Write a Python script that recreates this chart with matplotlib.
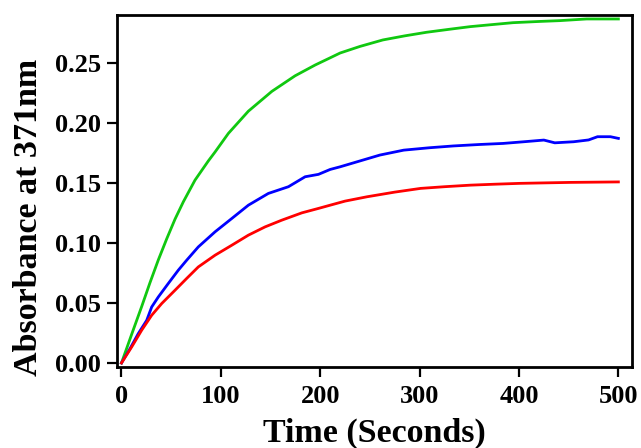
import matplotlib
matplotlib.use("Agg")
import matplotlib.pyplot as plt

# Absorbance traces at 371 nm versus time
green_t = [0, 10.3, 20.3, 28.7, 37.1, 45.5, 53.9, 62.3, 74, 87.4, 94.2, 107.6, 127.7, 151.3,
           174.7, 194.9, 210, 220, 240, 263, 285, 307, 330, 351, 373, 394, 420, 441, 468, 500]
green_a = [0.0, 0.0240, 0.0470, 0.0670, 0.0860, 0.1035, 0.1200, 0.1345, 0.1525, 0.1685, 0.1760,
           0.1915, 0.2100, 0.2265, 0.2395, 0.2485, 0.2545, 0.2585, 0.2640, 0.2694, 0.2728,
           0.2758, 0.2783, 0.2805, 0.2822, 0.2838, 0.2848, 0.2855, 0.2869, 0.2869]

blue_t = [0, 8.6, 16.9, 25.4, 30.4, 37.1, 47.1, 57.2, 65.6, 77.3, 94.2, 111, 127.7, 147.8,
          168, 184.8, 198.2, 210, 220, 240, 260, 284, 310, 334, 360, 384, 405, 425, 436,
          455, 470, 479, 492, 500]
blue_a = [0.0, 0.012, 0.0245, 0.0356, 0.0467, 0.0551, 0.0663, 0.0774, 0.0857, 0.0968, 0.1094,
          0.1205, 0.1316, 0.1414, 0.147, 0.1553, 0.1573, 0.1614, 0.1636, 0.1685, 0.1734,
          0.1775, 0.1795, 0.181, 0.1822, 0.1831, 0.1845, 0.1859, 0.1836, 0.1845, 0.1860,
          0.1887, 0.1887, 0.1873]

red_t = [0, 10.3, 20.3, 30.4, 40.5, 53.9, 65.6, 77.3, 94.2, 111, 127.7, 144.5, 161.3, 181.5,
         198.2, 210, 225, 247, 275, 301, 325, 351, 376, 401, 426, 452, 476, 500]
red_a = [0.0, 0.0134, 0.0273, 0.0398, 0.0496, 0.0607, 0.0705, 0.0801, 0.0899, 0.0982, 0.1066,
         0.1135, 0.1191, 0.1252, 0.1289, 0.1316, 0.1350, 0.1386, 0.1425, 0.1456, 0.1470,
         0.1483, 0.1491, 0.1498, 0.1502, 0.1506, 0.1508, 0.151]

x_ticks = [0, 100, 200, 300, 400, 500]
y_ticks = [0.00, 0.05, 0.10, 0.15, 0.20, 0.25]

plt.rcParams['font.family'] = ['Liberation Serif', 'DejaVu Serif']
plt.rcParams['font.weight'] = 'bold'

W, H = 641, 448
fig = plt.figure(figsize=(W / 100, H / 100), dpi=100)
left, right, top, bottom = 117.3, 632.3, 15.0, 366.7
ax = fig.add_axes([left / W, 1 - bottom / H, (right - left) / W, (bottom - top) / H])

ax.plot(green_t, green_a, color='#10c810', lw=2.0)
ax.plot(blue_t, blue_a, color='#0000ff', lw=2.0)
ax.plot(red_t, red_a, color='#ff0000', lw=2.0)

ax.set_xlim(-4.2, 514)
ax.set_ylim(-0.0031, 0.2902)
ax.set_xticks(x_ticks)
ax.set_xticklabels([str(v) for v in x_ticks])
ax.set_yticks(y_ticks)
ax.set_yticklabels([f"{v:.2f}" for v in y_ticks])

for s in ax.spines.values():
    s.set_linewidth(2.0)
    s.set_color('black')
ax.tick_params(axis='both', which='major', direction='out', length=7, width=1.6,
               labelsize=19, top=False, right=False)
ax.tick_params(axis='y', pad=5)
ax.tick_params(axis='x', pad=6)
for lab in ax.get_xticklabels() + ax.get_yticklabels():
    lab.set_fontweight('bold')

fig.text(374 / W, 1 - 441.7 / H, "Time (Seconds)", ha='center', va='baseline',
         fontsize=24.5, fontweight='bold')
fig.text(28.8 / W, 1 - 217.5 / H, "Absorbance at 371nm", ha='center', va='center',
         rotation=90, fontsize=24.5, fontweight='bold')

fig.savefig("out.png", dpi=100)
